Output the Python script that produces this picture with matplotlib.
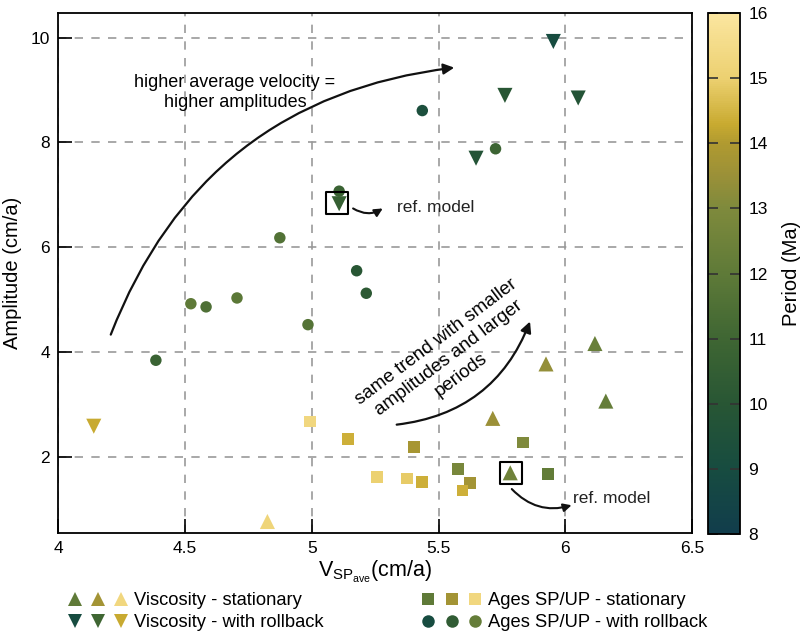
import numpy as np
import matplotlib
matplotlib.use("Agg")
import matplotlib.pyplot as plt
from matplotlib.colors import LinearSegmentedColormap, Normalize
from matplotlib.lines import Line2D
from matplotlib.legend_handler import HandlerTuple

plt.rcParams['font.family'] = ['Liberation Sans', 'DejaVu Sans']
plt.rcParams['mathtext.fontset'] = 'custom'
plt.rcParams['mathtext.rm'] = 'Liberation Sans'

# viscosity runs, stationary (up triangles)
visc_stat_v = [6.117, 5.924, 6.16, 5.714, 5.783, 4.825]
visc_stat_a = [4.16, 3.77, 3.06, 2.73, 1.69, 0.76]
visc_stat_p = [12.3, 13.4, 12.2, 13.5, 12.5, 15.2]

# viscosity runs, with rollback (down triangles)
visc_roll_v = [5.953, 5.762, 6.051, 5.648, 5.108, 4.14]
visc_roll_a = [9.93, 8.90, 8.85, 7.70, 6.83, 2.58]
visc_roll_p = [9.0, 10.0, 9.8, 9.8, 10.6, 14.3]

# plate-age runs, stationary (squares)
ages_stat_v = [4.993, 5.144, 5.402, 5.834, 5.578, 5.933, 5.256, 5.376, 5.434, 5.623, 5.595]
ages_stat_a = [2.67, 2.34, 2.18, 2.27, 1.77, 1.66, 1.61, 1.58, 1.52, 1.49, 1.35]
ages_stat_p = [15.3, 14.4, 13.8, 13.0, 12.8, 12.1, 15.0, 14.9, 14.4, 13.7, 14.4]

# plate-age runs, with rollback (circles)
ages_roll_v = [5.436, 5.725, 5.108, 4.874, 5.177, 5.215, 4.523, 4.583, 4.705, 4.985, 4.385]
ages_roll_a = [8.61, 7.88, 7.07, 6.18, 5.55, 5.12, 4.92, 4.86, 5.03, 4.52, 3.84]
ages_roll_p = [9.3, 10.9, 10.8, 11.6, 10.0, 10.2, 12.0, 11.5, 11.9, 11.7, 10.8]

# reference models (rollback / stationary)
ref_v = [5.101, 5.786]
ref_a = [6.84, 1.68]

# colours used for the legend swatches
leg_up_p = [12.0, 13.7, 15.3]
leg_down_p = [9.0, 11.0, 14.3]
leg_circ_p = [9.0, 10.4, 12.2]

cmap = LinearSegmentedColormap.from_list('period', [
    (0.0, '#113d4c'), (0.125, '#174c40'), (0.25, '#285634'), (0.375, '#3f6633'),
    (0.5, '#5e7a38'), (0.625, '#7e8a3c'), (0.6875, '#9a9038'), (0.75, '#b09a30'),
    (0.7875, '#c8aa30'), (0.875, '#ecd070'), (1.0, '#fbe6a0')])
norm = Normalize(8, 16)

fig = plt.figure(figsize=(8.04, 6.34), dpi=100)
ax = fig.add_axes([0.0725, 0.1593, 0.7882, 0.8207])
cax = fig.add_axes([0.8806, 0.1577, 0.0398, 0.8218])

kw = dict(cmap=cmap, norm=norm, linewidths=0, zorder=3)
ax.scatter(visc_stat_v, visc_stat_a, c=visc_stat_p, marker='^', s=118, **kw)
ax.scatter(visc_roll_v, visc_roll_a, c=visc_roll_p, marker='v', s=118, **kw)
ax.scatter(ages_stat_v, ages_stat_a, c=ages_stat_p, marker='s', s=72, **kw)
sc = ax.scatter(ages_roll_v, ages_roll_a, c=ages_roll_p, marker='o', s=68, **kw)

# boxes around the reference models
ax.scatter(ref_v, ref_a, marker='s', s=250, facecolors='none', edgecolors='black',
           linewidths=1.5, zorder=4)

ax.set_xlim(4, 6.5)
ax.set_ylim(0.54, 10.48)
ax.set_xticks([4, 4.5, 5, 5.5, 6, 6.5])
ax.set_xticklabels(['4', '4.5', '5', '5.5', '6', '6.5'])
ax.set_yticks([2, 4, 6, 8, 10])
ax.tick_params(direction='in', length=10, width=1.2, labelsize=12.5, pad=6)
ax.grid(True, ls=(0, (5, 5)), color='#999999', lw=1.2, zorder=0)
ax.set_axisbelow(True)
for sp in ax.spines.values():
    sp.set_linewidth(1.3)
ax.set_xlabel(r'$\mathregular{V_{SP_{ave}}}$(cm/a)', fontsize=15.5, labelpad=2)
ax.set_ylabel('Amplitude (cm/a)', fontsize=14.5, labelpad=6)

# annotations
arr = dict(arrowstyle='-|>', color='#111111', lw=1.6, mutation_scale=16, shrinkA=0, shrinkB=0)
ax.annotate('', xy=(5.562, 9.43), xytext=(4.207, 4.33),
            arrowprops=dict(connectionstyle='arc3,rad=-0.3', **arr))
ax.text(4.697, 8.95, 'higher average velocity =\nhigher amplitudes', ha='center', va='center',
        fontsize=13, linespacing=1.25)

ax.annotate('', xy=(5.861, 4.58), xytext=(5.335, 2.61),
            arrowprops=dict(connectionstyle='arc3,rad=0.3', **arr))
ax.text(5.54, 3.88, 'same trend with smaller\namplitudes and larger\nperiods', ha='center',
        va='center', rotation=37, fontsize=13.5, linespacing=1.3, rotation_mode='anchor')

small = dict(arr, mutation_scale=12, lw=1.5)
ax.annotate('', xy=(5.28, 6.74), xytext=(5.163, 6.74),
            arrowprops=dict(connectionstyle='arc3,rad=0.3', **small))
ax.text(5.337, 6.75, 'ref. model', ha='left', va='center', fontsize=12.5, color='#222222')
ax.annotate('', xy=(6.025, 1.07), xytext=(5.789, 1.38),
            arrowprops=dict(connectionstyle='arc3,rad=0.3', **small))
ax.text(6.029, 1.19, 'ref. model', ha='left', va='center', fontsize=12.5, color='#222222')

# colour bar
cb = fig.colorbar(sc, cax=cax)
cb.set_ticks(np.arange(8, 17, 1))
cb.ax.tick_params(direction='in', left=True, right=True, length=7, width=1.2,
                  color='#333333', labelsize=12.5, pad=6)
cb.outline.set_linewidth(1.3)
cb.set_label('Period (Ma)', fontsize=14.5, labelpad=10)

# legend with three swatches per entry
def swatches(marker, periods, ms):
    return tuple(Line2D([], [], marker=marker, ls='', ms=ms, mew=0,
                        color=cmap(norm(p))) for p in periods)

hmap = {tuple: HandlerTuple(ndivide=None, pad=0.9)}
fig.legend([swatches('^', leg_up_p, 10.5), swatches('v', leg_down_p, 10.5)],
           ['Viscosity - stationary', 'Viscosity - with rollback'],
           handler_map=hmap, loc='lower left', bbox_to_anchor=(0.068, -0.022),
           frameon=False, fontsize=13.2, handlelength=2.9, handletextpad=0.55,
           labelspacing=0.3)
fig.legend([swatches('s', leg_up_p, 9), swatches('o', leg_circ_p, 9)],
           ['Ages SP/UP - stationary', 'Ages SP/UP - with rollback'],
           handler_map=hmap, loc='lower left', bbox_to_anchor=(0.508, -0.022),
           frameon=False, fontsize=13.2, handlelength=2.9, handletextpad=0.55,
           labelspacing=0.3)

fig.savefig('out.png', dpi=100)
